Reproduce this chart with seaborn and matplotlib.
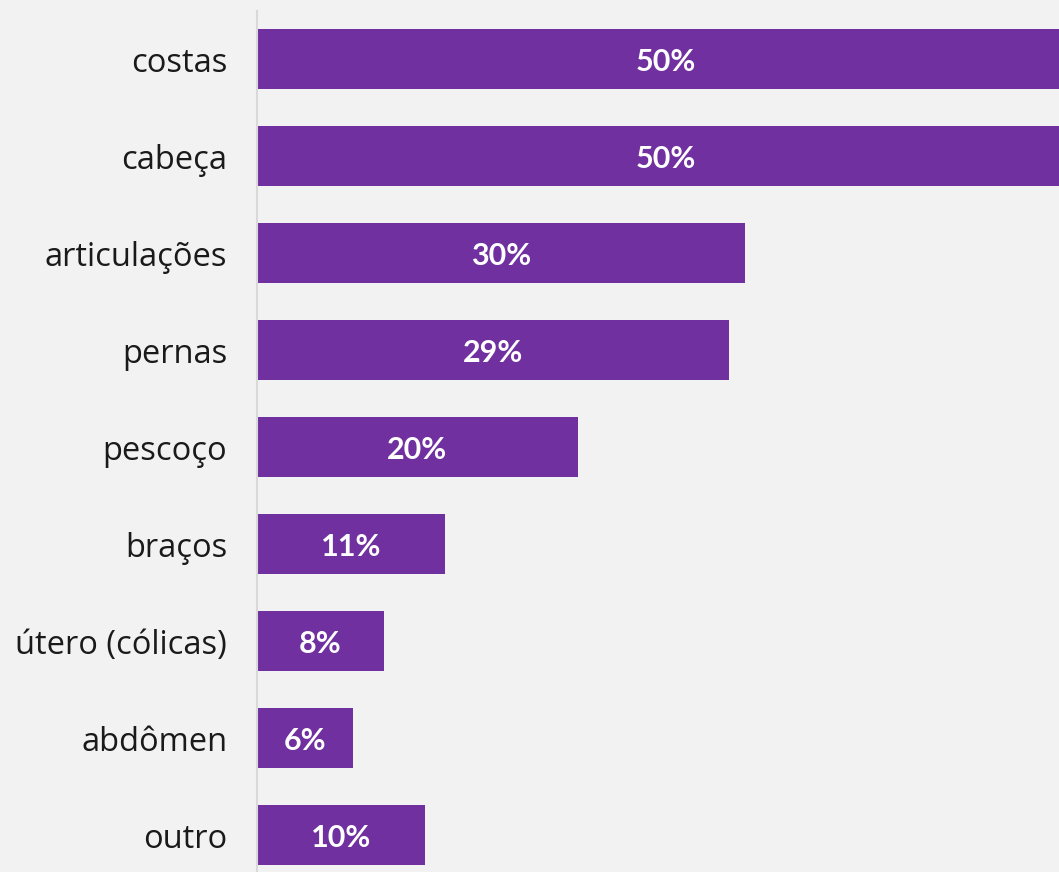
import matplotlib
matplotlib.use("Agg")
import matplotlib.pyplot as plt
import seaborn as sns
import pandas as pd

categories = ["costas", "cabeça", "articulações", "pernas", "pescoço",
              "braços", "útero (cólicas)", "abdômen", "outro"]
values = [51.0, 51.0, 30.4, 29.4, 20.0, 11.7, 7.9, 6.0, 10.5]
labels = ["50%", "50%", "30%", "29%", "20%", "11%", "8%", "6%", "10%"]

df = pd.DataFrame({"categoria": categories, "valor": values})

sns.set_theme(style="white")
plt.rcParams["font.family"] = ["Open Sans", "DejaVu Sans"]

bg = "#f2f2f2"
bar_color = "#70309f"

fig = plt.figure(figsize=(10.59, 8.72), dpi=100, facecolor=bg)
ax = fig.add_axes([257 / 1059, (872 - 883.5) / 872, 802 / 1059, 873 / 872])
ax.set_facecolor(bg)

sns.barplot(data=df, y="categoria", x="valor", orient="h", color=bar_color,
            saturation=1, width=0.625, ax=ax, order=categories, linewidth=0)

for i, (v, lab) in enumerate(zip(values, labels)):
    ax.text(v / 2, i + 0.03, lab, ha="center", va="center", color="white",
            fontsize=22, fontweight="bold", family=["Lato", "DejaVu Sans"])

ax.set_xlim(0, 50)
ax.set_ylim(8.5, -0.5)
ax.set_xlabel("")
ax.set_ylabel("")
ax.set_xticks([])
ax.tick_params(axis="y", length=0, pad=21.5, labelsize=23.5, labelcolor="#1a1a1a")
for s in ["top", "right", "bottom"]:
    ax.spines[s].set_visible(False)
ax.spines["left"].set_color("#d9d9d9")
ax.spines["left"].set_linewidth(1.5)

fig.savefig("out.png", dpi=100, facecolor=bg)
